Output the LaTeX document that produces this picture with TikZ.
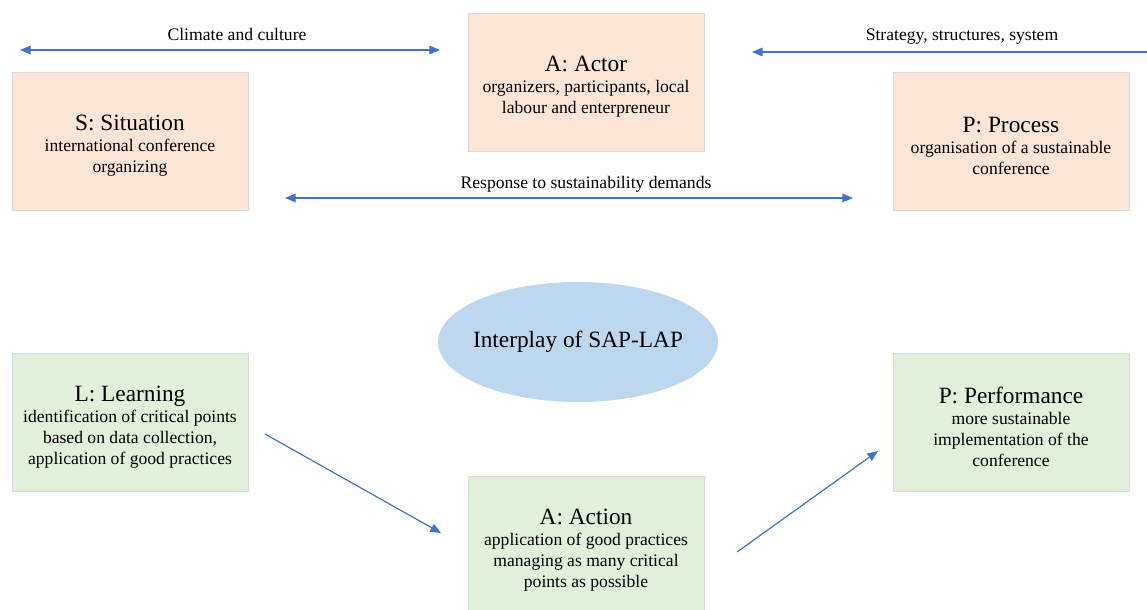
\documentclass[tikz,border=0pt]{standalone}
\usepackage{fontspec}
\setmainfont{Liberation Serif}
\usetikzlibrary{arrows.meta,shapes.geometric}

\definecolor{boxpeach}{HTML}{FBE5D6}
\definecolor{boxgreen}{HTML}{E2EFDA}
\definecolor{boxblue}{HTML}{BDD7EE}
\definecolor{boxline}{HTML}{D9D9D9}
\definecolor{arrowblue}{HTML}{4472C4}

\newcommand{\boxhead}[1]{{\rmfamily\fontsize{17.5}{21}\selectfont\rule{0pt}{19pt}#1}\\[0pt]}

\tikzset{
  sapbox/.style={draw=boxline, line width=0.6pt, minimum width=177pt, minimum height=103.5pt,
    align=center, inner sep=2pt, font=\rmfamily\fontsize{13.2}{15.75}\selectfont},
  sit/.style={sapbox, fill=boxpeach},
  lrn/.style={sapbox, fill=boxgreen},
  link/.style={draw=arrowblue, line width=0.9pt, -{Triangle[length=8pt,width=6.5pt]}},
  linkboth/.style={draw=arrowblue, line width=0.9pt, {Triangle[length=8pt,width=6.5pt]}-{Triangle[length=8pt,width=6.5pt]}},
  linklabel/.style={font=\rmfamily\fontsize{13.2}{15}\selectfont, inner sep=0pt, anchor=base}
}

\begin{document}
\begin{tikzpicture}[x=0.75pt,y=0.75pt,yscale=-1,xscale=1]
\useasboundingbox (0,0) rectangle (1147,610);

% SAP part
\node[sit] (situation) at (130,141) {\boxhead{S: Situation}international conference\\organizing};
\node[sit] (actor) at (586,82) {\boxhead{A: Actor}organizers, participants, local\\labour and enterpreneur};
\node[sit] (process) at (1011,141) {\boxhead{P: Process}organisation of a sustainable\\conference};

% LAP part
\node[lrn] (learning) at (130,422) {\boxhead{L: Learning}identification of critical points\\based on data collection,\\application of good practices};
\node[lrn] (action) at (586,545) {\boxhead{A: Action}application of good practices\\managing as many critical\\points as possible};
\node[lrn] (performance) at (1011,422) {\boxhead{P: Performance}more sustainable\\implementation of the\\conference};

% interplay
\node[ellipse, draw=none, fill=boxblue, minimum width=210pt, minimum height=90pt, inner sep=0pt] (interplay) at (578,342) {};
\node[font=\rmfamily\fontsize{17.5}{21}\selectfont] (interplaytext) at (interplay.center) {Interplay of SAP-LAP};

% arrow ends
\coordinate (climL) at (20,50);
\coordinate (climR) at (440,50);
\coordinate (stratR) at (1147,52);
\coordinate (stratL) at (752,52);
\coordinate (respL) at (285,198);
\coordinate (respR) at (853,198);
\coordinate (lrnA) at (265,434);
\coordinate (lrnB) at (441,533);
\coordinate (actA) at (737,552);
\coordinate (actB) at (878,451);

% arrows
\draw[linkboth] (climL) -- (climR);
\node[linklabel] (climate) at (237,41) {Climate and culture};
\draw[link] (stratR) -- (stratL);
\node[linklabel] (strategy) at (962,41) {Strategy, structures, system};
\draw[linkboth] (respL) -- (respR);
\node[linklabel] (response) at (586,189) {Response to sustainability demands};
\draw[link] (lrnA) -- (lrnB);
\draw[link] (actA) -- (actB);

\end{tikzpicture}
\end{document}
